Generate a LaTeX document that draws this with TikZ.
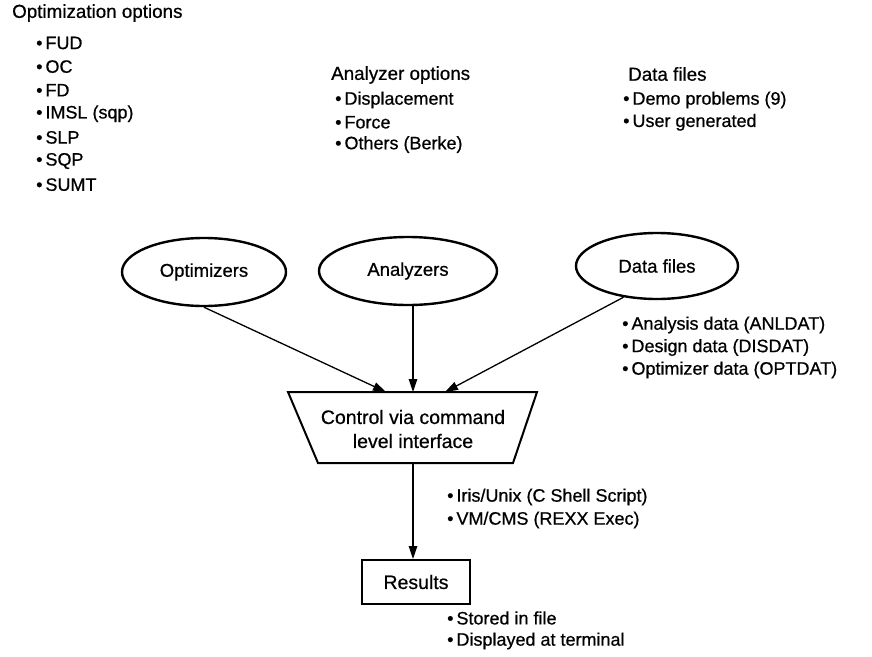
\documentclass[tikz,border=0pt]{standalone}
\usepackage{fontspec}
\setmainfont{Liberation Sans}[FakeBold=0.6]
\usetikzlibrary{shapes.geometric,arrows.meta}
\newcommand\bul{\textbullet\hspace{3pt}}
\begin{document}
\begin{tikzpicture}[x=1pt,y=-1pt,
  txt/.style={inner sep=0pt,anchor=west,font=\fontsize{18}{20}\selectfont},
  ttl/.style={inner sep=0pt,anchor=west,font=\fontsize{18.8}{20}\selectfont},
  ctxt/.style={inner sep=0pt,font=\fontsize{19.5}{22}\selectfont},
  oval/.style={ellipse,draw,line width=2.4pt,inner sep=0pt,font=\fontsize{18.5}{20}\selectfont},
  boxnode/.style={rectangle,draw,line width=2pt,inner sep=0pt,font=\fontsize{19.5}{22}\selectfont},
  conn/.style={line width=1.3pt,-{Triangle[length=13pt,width=8.5pt]}},
]
\useasboundingbox (0,0) rectangle (872,656);

% Optimization options
\node[ttl] (t1) at (12,13) {Optimization options};
\foreach \it [count=\i] in {FUD,OC,FD,IMSL (sqp),SLP,SQP,SUMT}
  \node[txt] (oo\i) at (36,{43+23.6*(\i-1)}) {\bul\it};

% Analyzer options
\node[ttl] (t2) at (331,75) {Analyzer options};
\foreach \it [count=\i] in {Displacement,Force,Others (Berke)}
  \node[txt] (ao\i) at (335,{100+22.3*(\i-1)}) {\bul\it};

% Data files
\node[ttl] (t3) at (628,74) {Data files};
\foreach \it [count=\i] in {Demo problems (9),User generated}
  \node[txt] (df\i) at (623,{100+22.3*(\i-1)}) {\bul\it};

% Ellipses
\node[oval,minimum width=164pt,minimum height=68pt] (opt) at (204,272) {Optimizers};
\node[oval,minimum width=178pt,minimum height=68pt] (anl) at (408,271) {Analyzers};
\node[oval,minimum width=162pt,minimum height=66pt] (dat) at (657,266) {Data files};

% data list
\foreach \it [count=\i] in {Analysis data (ANLDAT),Design data (DISDAT),Optimizer data (OPTDAT)}
  \node[txt] (dd\i) at (622,{325+22.5*(\i-1)}) {\bul\it};

% Trapezoid
\coordinate (tl) at (288,392);
\coordinate (tr) at (537,392);
\coordinate (br) at (513,463);
\coordinate (bl) at (318,463);
\coordinate (bm) at (413,463);
\coordinate (a1) at (386,392);
\coordinate (a2) at (413,392);
\coordinate (a3) at (445,392);
\draw[line width=2pt,line join=miter] (tl) -- (tr) -- (br) -- (bl) -- cycle;
\node[ctxt] (c1) at (413,417) {Control via command};
\node[ctxt] (c2) at (413,441) {level interface};

% Connectors
\draw[conn] (opt.south) -- (a1);
\draw[conn] (anl.south -| a2) -- (a2);
\draw[conn] (dat.-137) -- (a3);

% Shell list
\node[txt] (s1) at (447,497) {\bul Iris/Unix (C Shell Script)};
\node[txt] (s2) at (447,520) {\bul VM/CMS (REXX Exec)};

% Results
\node[boxnode,minimum width=108pt,minimum height=44pt] (res) at (416,582) {Results};
\draw[conn] (bm) -- (res.north -| bm);

\node[txt] (r1) at (447,618) {\bul Stored in file};
\node[txt] (r2) at (447,641) {\bul Displayed at terminal};
\end{tikzpicture}
\end{document}
